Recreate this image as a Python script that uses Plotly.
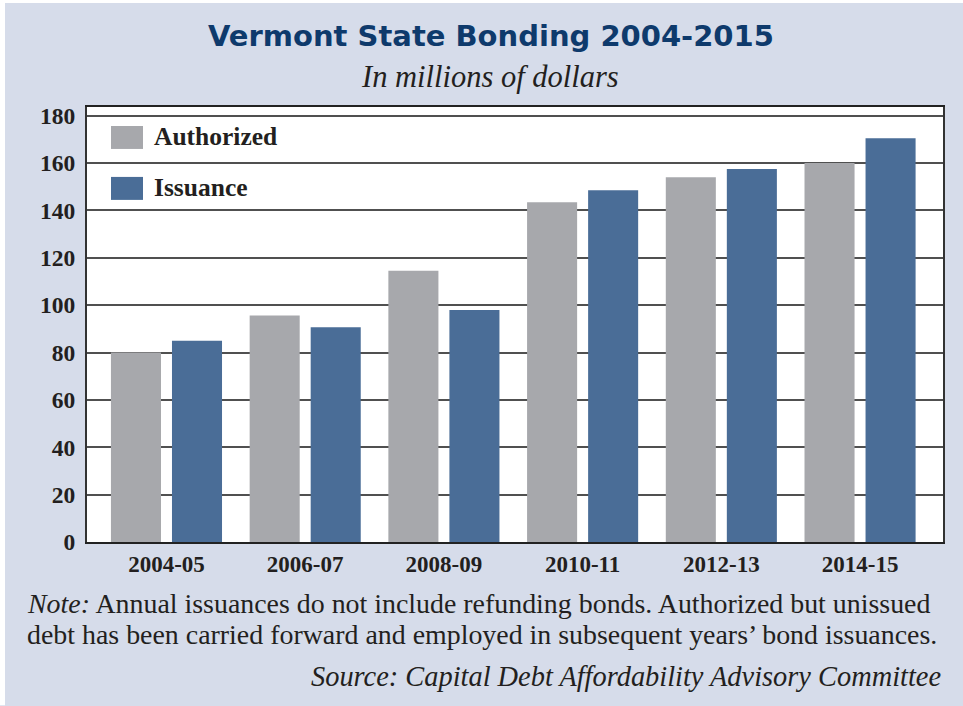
import plotly.graph_objects as go

categories = ["2004-05", "2006-07", "2008-09", "2010-11", "2012-13", "2014-15"]
authorized = [80, 95.7, 114.5, 143.5, 154, 160]
issuance = [85, 90.7, 98, 148.5, 157.5, 170.5]
y_ticks = [0, 20, 40, 60, 80, 100, 120, 140, 160, 180]

W, H = 963, 706
L, R, T, B = 87, 943, 107, 542.5

def px(x):
    return (x - L) / (R - L)

def py(y):
    return (B - y) / (B - T)

GRAY = "#a7a8ac"
BLUE = "#4a6d97"
BG = "#d6dcea"
NAVY = "#0e3a6c"
SERIF = "Liberation Serif"
TXT = "#231f20"

fig = go.Figure()
fig.add_trace(go.Bar(x=categories, y=authorized, name="Authorized",
                     marker=dict(color=GRAY, line=dict(width=0))))
fig.add_trace(go.Bar(x=categories, y=issuance, name="Issuance",
                     marker=dict(color=BLUE, line=dict(width=0))))

fig.update_layout(
    width=W, height=H,
    margin=dict(l=L, r=W - R, t=T, b=H - B),
    paper_bgcolor=BG, plot_bgcolor="white",
    barmode="group", bargap=0.12, bargroupgap=0.18,
    showlegend=False,
    font=dict(family=SERIF, color=TXT),
)
fig.update_xaxes(
    type="category",
    range=[-0.573, 5.598], showgrid=False,
    showline=True, linecolor="#222222", linewidth=2, mirror=True,
    ticks="", ticklabelstandoff=0,
    tickfont=dict(family=SERIF, size=23, color=TXT, weight="bold"),
)
fig.update_yaxes(
    range=[0, 183.7], tickvals=y_ticks, showgrid=True, gridcolor="#505050", gridwidth=2,
    showline=True, linecolor="#333333", linewidth=2, mirror=True,
    ticks="", ticklabelstandoff=5,
    tickfont=dict(family=SERIF, size=23.5, color=TXT, weight="bold"),
    zeroline=False,
)

# thin white page edge (top and left)
fig.add_shape(type="rect", xref="paper", yref="paper",
              x0=px(0), x1=px(W), y0=py(3), y1=py(0),
              fillcolor="white", line=dict(width=0), layer="above")
fig.add_shape(type="rect", xref="paper", yref="paper",
              x0=px(0), x1=px(5), y0=py(H), y1=py(0),
              fillcolor="white", line=dict(width=0), layer="above")

# legend drawn inside plot
for i, (name, col) in enumerate([("Authorized", GRAY), ("Issuance", BLUE)]):
    y0 = 126 + i * 51
    fig.add_shape(type="rect", xref="paper", yref="paper",
                  x0=px(111), x1=px(143), y0=py(y0 + 23), y1=py(y0),
                  fillcolor=col, line=dict(width=0), layer="above")
    fig.add_annotation(xref="paper", yref="paper", x=px(152), y=py(y0 + 11),
                       xanchor="left", yanchor="middle", showarrow=False,
                       text="<b>%s</b>" % name,
                       font=dict(family=SERIF, size=25.5, color=TXT))

# title & subtitle
fig.add_annotation(xref="paper", yref="paper", x=px(491), y=py(36),
                   xanchor="center", yanchor="middle", showarrow=False,
                   text="<b>Vermont State Bonding 2004-2015</b>",
                   font=dict(family="DejaVu Sans", size=29, color=NAVY))
fig.add_annotation(xref="paper", yref="paper", x=px(490), y=py(77),
                   xanchor="center", yanchor="middle", showarrow=False,
                   text="<i>In millions of dollars</i>",
                   font=dict(family=SERIF, size=30.5, color=TXT))

# notes
fig.add_annotation(xref="paper", yref="paper", x=px(25), y=py(604),
                   xanchor="left", yanchor="middle", showarrow=False,
                   text="<i>Note:</i> Annual issuances do not include refunding bonds. Authorized but unissued",
                   font=dict(family=SERIF, size=27.9, color=TXT))
fig.add_annotation(xref="paper", yref="paper", x=px(25), y=py(635),
                   xanchor="left", yanchor="middle", showarrow=False,
                   text="debt has been carried forward and employed in subsequent years\u2019 bond issuances.",
                   font=dict(family=SERIF, size=27.9, color=TXT))
fig.add_annotation(xref="paper", yref="paper", x=px(943), y=py(677),
                   xanchor="right", yanchor="middle", showarrow=False,
                   text="<i>Source: Capital Debt Affordability Advisory Committee</i>",
                   font=dict(family=SERIF, size=28.4, color=TXT))

fig.write_html("out.html")
